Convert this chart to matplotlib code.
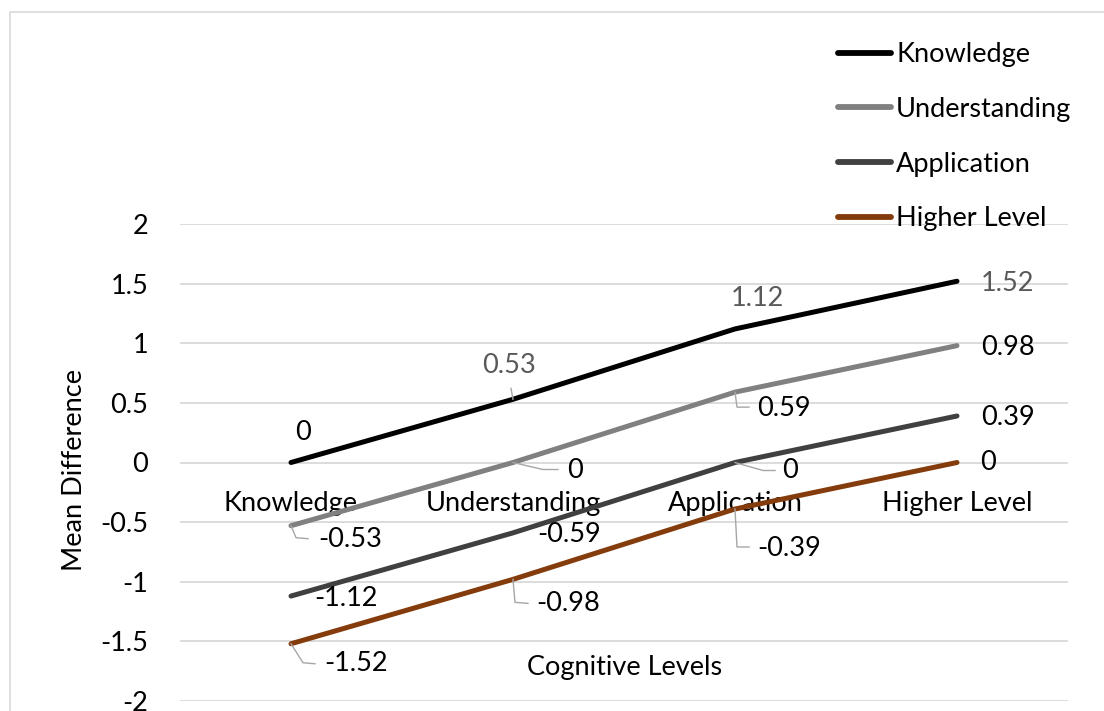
import matplotlib
matplotlib.use("Agg")
import matplotlib.pyplot as plt
from matplotlib.lines import Line2D
from matplotlib.patches import Rectangle
from matplotlib.transforms import Affine2D

# ---- data ----
categories = ["Knowledge", "Understanding", "Application", "Higher Level"]
knowledge = [0, 0.53, 1.12, 1.52]
understanding = [-0.53, 0, 0.59, 0.98]
application = [-1.12, -0.59, 0, 0.39]
higher_level = [-1.52, -0.98, -0.39, 0]
series_names = ["Knowledge", "Understanding", "Application", "Higher Level"]
y_ticks = [-2, -1.5, -1, -0.5, 0, 0.5, 1, 1.5, 2]

# ---- styles ----
series_values = [knowledge, understanding, application, higher_level]
series_colors = ["#000000", "#808080", "#404040", "#843C0C"]
FONT = "Lato"
FS = 19.5

# label placement per series/point: (dx, dy) in pixels, dy downward
label_offsets = [
    [(4, -30), (-31, -34), (-4, -30), (24, 2)],
    [(27, 14), (54, 8), (22, 16), (24, 2)],
    [(23, 2), (24, 2), (47, 8), (24, 2)],
    [(33, 20), (23, 24), (22, 39), (23, 0)],
]
label_colors = [
    ["#000000", "#595959", "#595959", "#595959"],
    ["#000000"] * 4,
    ["#000000"] * 4,
    ["#000000"] * 4,
]
# leader lines (pixel vertices relative to the point, dy downward)
leaders = [
    [None, [(0, 0), (-2, -11)], None, None],
    [[(0, 0), (5, 12), (17, 13)], [(0, 0), (30, 7), (45, 7)],
     [(0, 0), (2, 15), (14, 15)], None],
    [None, None, [(0, 0), (28, 8), (40, 8)], None],
    [[(0, 0), (12, 19), (24, 20)], [(0, 0), (2, 23), (15, 24)],
     [(0, 0), (2, 38), (14, 38)], None],
]

W, H = 1104, 711
fig = plt.figure(figsize=(W / 100, H / 100), dpi=100)
fig.patch.set_facecolor("white")

# chart border
fig.add_artist(Rectangle((10 / W, -0.1), 1.2, (H - 12) / H + 0.1,
                         transform=fig.transFigure, fill=False,
                         edgecolor="#d9d9d9", linewidth=1.2))

ax = fig.add_axes([180 / W, 1 - 701 / H, (1068 - 180) / W, (701 - 224) / H])
ax.set_xlim(-0.5, len(categories) - 0.5)
ax.set_ylim(-2, 2)
ax.set_yticks(y_ticks)
ax.set_yticklabels([f"{t:g}" for t in y_ticks], fontsize=FS, fontfamily=FONT)
ax.tick_params(axis="y", length=0, pad=23)
ax.set_xticks([])
for s in ax.spines.values():
    s.set_visible(False)
ax.grid(axis="y", color="#d9d9d9", linewidth=1.3)
ax.set_axisbelow(True)

x = list(range(len(categories)))
handles = []
for vals, color, name in zip(series_values, series_colors, series_names):
    ln, = ax.plot(x, vals, color=color, linewidth=3.6,
                  solid_capstyle="round", solid_joinstyle="round",
                  label=name, zorder=3)
    handles.append(ln)

# category labels sit below the zero line
for i, c in enumerate(categories):
    ax.annotate(c, xy=(i, 0), xytext=(0, -41), textcoords="offset pixels",
                ha="center", va="center", fontsize=FS, fontfamily=FONT,
                color="#000000", zorder=2)

fig.canvas.draw()
# data labels and leader lines
for s, vals in enumerate(series_values):
    for i, v in enumerate(vals):
        dx, dy = label_offsets[s][i]
        ax.annotate(f"{v:g}", xy=(i, v), xytext=(dx, -dy),
                    textcoords="offset pixels", ha="left", va="center",
                    fontsize=FS, fontfamily=FONT, color=label_colors[s][i],
                    zorder=5)
        ld = leaders[s][i]
        if ld:
            px, py = ax.transData.transform((i, v))
            xs = [p[0] for p in ld]
            ys = [-p[1] for p in ld]
            fig.add_artist(Line2D(xs, ys, color="#a6a6a6", linewidth=1.0,
                                  transform=Affine2D().translate(px, py),
                                  zorder=4))

leg = fig.legend(handles=handles, loc="upper left",
                 bbox_to_anchor=(838 / W, 1 - 42 / H), frameon=False,
                 prop={"family": FONT, "size": FS}, handlelength=1.95,
                 handletextpad=0.2, labelspacing=1.1, borderpad=0,
                 borderaxespad=0)
for lh in leg.get_lines():
    lh.set_linewidth(4.2)

fig.text(75 / W, 1 - 470 / H, "Mean Difference", rotation=90,
         ha="center", va="center", fontsize=FS, fontfamily=FONT)
fig.text(625 / W, 1 - 668 / H, "Cognitive Levels",
         ha="center", va="center", fontsize=FS, fontfamily=FONT)

fig.savefig("out.png", dpi=100)
